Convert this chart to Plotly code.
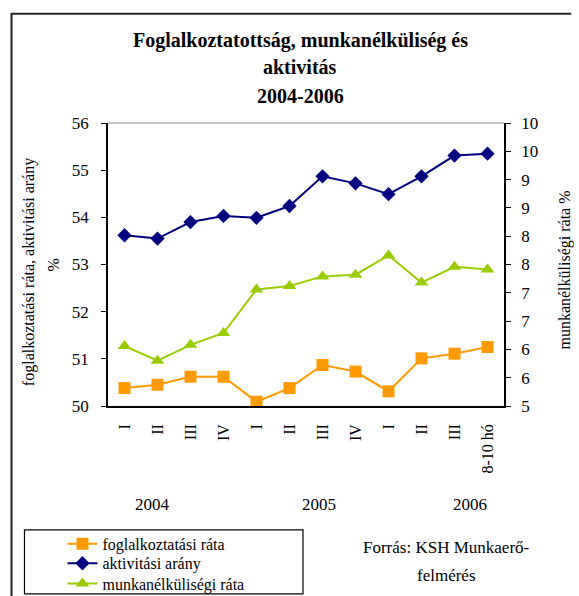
import plotly.graph_objects as go

# ---- data ----
quarters = ["I", "II", "III", "IV", "I", "II", "III", "IV", "I", "II", "III", "8-10 hó"]
years = ["2004", "2005", "2006"]
foglalkoztatasi_rata = [50.38, 50.45, 50.62, 50.62, 50.09, 50.38, 50.87, 50.73, 50.31, 51.01, 51.11, 51.25]
aktivitasi_arany = [53.62, 53.55, 53.90, 54.03, 53.99, 54.24, 54.87, 54.72, 54.49, 54.87, 55.31, 55.35]
munkanelkulisegi_rata = [6.06, 5.80, 6.08, 6.29, 7.06, 7.12, 7.29, 7.32, 7.66, 7.18, 7.46, 7.41]
left_ticks = [50, 51, 52, 53, 54, 55, 56]
right_ticks = [5, 5.5, 6, 6.5, 7, 7.5, 8, 8.5, 9, 9.5, 10]
right_tick_labels = ["5", "6", "6", "7", "7", "8", "8", "9", "9", "10", "10"]
title_lines = ["Foglalkoztatottság, munkanélküliség és", "aktivitás", "2004-2006"]
source_lines = ["Forrás: KSH Munkaerő-", "felmérés"]

FONT = "Liberation Serif"
x_pos = list(range(len(quarters)))
boundaries = [i - 0.5 for i in range(len(quarters) + 1)]
xr = [-0.5, len(quarters) - 0.5]

fig = go.Figure()
fig.add_trace(go.Scatter(x=x_pos, y=foglalkoztatasi_rata, name="foglalkoztatási ráta",
                         mode="lines+markers", line=dict(color="#FF9900", width=2),
                         marker=dict(symbol="square", size=12, color="#FF9900"), yaxis="y",
                         legend="legend"))
fig.add_trace(go.Scatter(x=x_pos, y=aktivitasi_arany, name="aktivitási arány",
                         mode="lines+markers", line=dict(color="#000080", width=2),
                         marker=dict(symbol="diamond", size=11, color="#000080"), yaxis="y",
                         legend="legend2"))
fig.add_trace(go.Scatter(x=x_pos, y=munkanelkulisegi_rata, name="munkanélküliségi ráta",
                         mode="lines+markers", line=dict(color="#99CC00", width=2),
                         marker=dict(symbol="triangle-up", size=12, color="#99CC00"), yaxis="y2",
                         legend="legend3"))

axis_font = dict(family=FONT, size=17, color="black")
leg_font = dict(family=FONT, size=16, color="black")
leg_x = -0.115


def leg(y):
    return dict(x=leg_x, y=y, xanchor="left", yanchor="middle", bgcolor="rgba(0,0,0,0)",
                borderwidth=0, font=leg_font)


fig.update_layout(
    width=579, height=596,
    margin=dict(l=108, r=75, t=123, b=190, autoexpand=False),
    paper_bgcolor="white", plot_bgcolor="white",
    font=dict(family=FONT, size=16, color="black"),
    showlegend=True,
    legend=leg(-0.487), legend2=leg(-0.556), legend3=leg(-0.628),
    xaxis=dict(range=xr, tickvals=x_pos, ticktext=quarters, tickangle=-90,
               ticks="", showgrid=False, zeroline=False, showline=True, automargin=False,
               linecolor="black", linewidth=1.5, tickfont=dict(family=FONT, size=16, color="black"),
               ticklabelstandoff=10),
    xaxis2=dict(range=xr, overlaying="x", anchor="y", tickvals=boundaries, ticks="outside",
                ticklen=5, tickcolor="black", tickwidth=1.2, showticklabels=False,
                showgrid=False, zeroline=False, showline=False),
    xaxis3=dict(range=xr, overlaying="x", anchor="y", tickvals=boundaries, ticks="inside",
                ticklen=5, tickcolor="black", tickwidth=1.2, showticklabels=False,
                showgrid=False, zeroline=False, showline=False),
    yaxis=dict(range=[50, 56], tickvals=left_ticks, ticks="outside", ticklen=5,
               tickcolor="black", tickwidth=1.2, showgrid=False, zeroline=False, automargin=False,
               showline=True, linecolor="black", linewidth=1.5, tickfont=axis_font,
               ticklabelstandoff=9),
    yaxis3=dict(range=[50, 56], overlaying="y", side="left", anchor="x", tickvals=left_ticks,
                ticks="inside", ticklen=5, tickcolor="black", tickwidth=1.2,
                showticklabels=False, showgrid=False, zeroline=False, showline=False),
    yaxis2=dict(range=[5, 10], overlaying="y", side="right", anchor="x", tickvals=right_ticks,
                ticktext=right_tick_labels, ticks="outside", ticklen=5, tickcolor="black",
                tickwidth=1.2, showgrid=False, zeroline=False, showline=True, automargin=False,
                linecolor="black", linewidth=1.5, tickfont=axis_font, ticklabelstandoff=7),
    yaxis4=dict(range=[5, 10], overlaying="y", side="right", anchor="x", tickvals=right_ticks,
                ticks="inside", ticklen=5, tickcolor="black", tickwidth=1.2,
                showticklabels=False, showgrid=False, zeroline=False, showline=False),
)

# outer frame (left + top edges) as a single path, plot-area top border, legend box
fig.add_shape(type="path", xref="paper", yref="paper",
              path="M -0.2437,-0.8 L -0.2437,1.386 L 1.17,1.386",
              line=dict(color="#222222", width=2), layer="above")
fig.add_shape(type="line", xref="paper", yref="paper", x0=0, x1=1, y0=1, y1=1,
              line=dict(color="#888888", width=1.2))
fig.add_shape(type="rect", xref="paper", yref="paper", x0=-0.2109, x1=0.4924, y0=-0.6636, y1=-0.4377,
              line=dict(color="black", width=1.2))

# title lines
title_y = [1.2925, 1.1972, 1.0953]
for txt, yy in zip(title_lines, title_y):
    fig.add_annotation(text="<b>" + txt + "</b>", xref="paper", yref="paper", x=0.486, y=yy,
                       xanchor="center", yanchor="middle", showarrow=False,
                       font=dict(family=FONT, size=20, color="black"))

# axis titles
fig.add_annotation(text="foglalkoztatási ráta, aktivitási arány", textangle=-90,
                   xref="paper", yref="paper", x=-0.1995, y=0.473, xanchor="center", yanchor="middle",
                   showarrow=False, font=dict(family=FONT, size=16, color="black"))
fig.add_annotation(text="%", textangle=-90,
                   xref="paper", yref="paper", x=-0.1376, y=0.498, xanchor="center", yanchor="middle",
                   showarrow=False, font=dict(family=FONT, size=16, color="black"))
fig.add_annotation(text="munkanélküliségi ráta %", textangle=-90,
                   xref="paper", yref="paper", x=1.155, y=0.48, xanchor="center", yanchor="middle",
                   showarrow=False, font=dict(family=FONT, size=16, color="black"))

# year labels
year_x = [0.112, 0.534, 0.915]
for yr, xp in zip(years, year_x):
    fig.add_annotation(text=yr, xref="paper", yref="paper", x=xp, y=-0.349,
                       xanchor="center", yanchor="middle", showarrow=False,
                       font=dict(family=FONT, size=17, color="black"))

# source
source_y = [-0.501, -0.600]
for txt, yy in zip(source_lines, source_y):
    fig.add_annotation(text=txt, xref="paper", yref="paper", x=0.855, y=yy,
                       xanchor="center", yanchor="middle", showarrow=False,
                       font=dict(family=FONT, size=17, color="black"))

fig.write_html("out.html", config={"displayModeBar": False},
               post_script="document.body.style.margin='0';document.body.style.overflow='hidden';")
